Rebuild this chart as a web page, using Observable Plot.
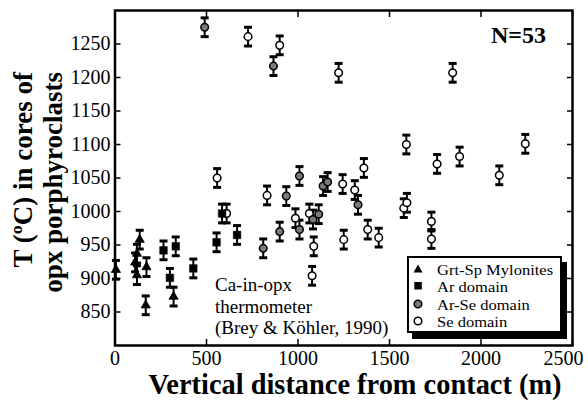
<!DOCTYPE html>
<html><head><meta charset="utf-8">
<script src="https://cdn.jsdelivr.net/npm/d3@7"></script>
<script src="https://cdn.jsdelivr.net/npm/@observablehq/plot@0.6"></script>
<style>
body{margin:0;background:#fff;}
#wrap{position:relative;width:588px;height:400px;font-family:"Liberation Serif","Times New Roman",serif;color:#000;overflow:hidden;}
#wrap svg{position:absolute;left:0;top:0;}
.abs{position:absolute;white-space:nowrap;}
#legend{position:absolute;left:407px;top:256px;width:151px;height:73px;border:2px solid #000;background:#fff;box-shadow:5px 6px 0 #000;}
#legend .row{position:absolute;left:0;font-size:15.3px;line-height:17px;height:17px;}
#legend .row svg{position:absolute;left:3px;top:2px;}
#legend .row span{position:absolute;left:28px;top:0;white-space:nowrap;display:inline-block;transform:scaleX(1.08);transform-origin:0 50%;}
</style></head><body><div id="wrap"></div>
<script>
// ---- data ----
const mylonitesDist = [5, 110, 120, 120, 135, 168, 172, 320];
const mylonitesTemp = [913, 924, 937, 905, 958, 860, 917, 873];

const arDist = [265, 300, 332, 428, 555, 585, 667];
const arTemp = [942, 901, 948, 915, 954, 997, 965];

const arSeDist = [490, 866, 1008, 936, 900, 810, 1008, 1082, 1113, 1137, 1162, 1328];
const arSeTemp = [1275, 1217, 1053, 1023, 970, 945, 973, 988, 996, 1038, 1044, 1010];

const seDist = [727, 900, 1222, 1845, 558, 610, 831, 986, 1062, 1086, 1077, 1244, 1310, 1360, 1250, 1381, 1441, 1592, 1578, 1595, 1729, 1729, 1760, 1883, 2100, 2242];
const seTemp = [1261, 1248, 1207, 1207, 1050, 997, 1024, 990, 997, 948, 904, 1041, 1032, 1065, 958, 973, 961, 1100, 1005, 1013, 985, 959, 1071, 1082, 1054, 1101];

const errorHalf = 14;
const xTicks = [0, 500, 1000, 1500, 2000, 2500];
const yTicks = [850, 900, 950, 1000, 1050, 1100, 1150, 1200, 1250];
const groups = ["Grt-Sp Mylonites", "Ar domain", "Ar-Se domain", "Se domain"];

// ---- build rows ----
const rows = [];
function add(group, ds, ts) { ds.forEach((d, i) => rows.push({group, d, t: ts[i]})); }
add(groups[3], seDist, seTemp);
add(groups[2], arSeDist, arSeTemp);
add(groups[1], arDist, arTemp);
add(groups[0], mylonitesDist, mylonitesTemp);
const byGroup = g => rows.filter(r => r.group === g);

const cap = {draw(ctx) { ctx.moveTo(-4, 0); ctx.lineTo(4, 0); }};
const font = "'Liberation Serif','Times New Roman',serif";

const chart = Plot.plot({
  width: 588, height: 400,
  marginLeft: 114.5, marginRight: 16, marginTop: 10, marginBottom: 55,
  x: {domain: [0, 2500]},
  y: {domain: [800, 1300]},
  style: {fontFamily: font, fontSize: "20px", color: "#000", background: "transparent"},
  marks: [
    Plot.axisX({anchor: "bottom", ticks: xTicks, tickSize: -6, tickPadding: 11, strokeWidth: 1.5,
      tickFormat: d => d === 2500 ? "" : String(d), label: null, fontSize: 20}),
    Plot.axisX({anchor: "bottom", ticks: [2500], tickSize: 0, tickPadding: 5, dx: -9,
      tickFormat: d => String(d), label: null, fontSize: 20}),
    Plot.axisX({anchor: "top", ticks: xTicks, tickSize: -6, strokeWidth: 1.5, tickFormat: () => "", label: null}),
    Plot.axisY({anchor: "left", ticks: yTicks, tickSize: -6, tickPadding: 10.5, strokeWidth: 1.5,
      tickFormat: d => String(d), label: null, fontSize: 20}),
    Plot.axisY({anchor: "right", ticks: yTicks, tickSize: -6, strokeWidth: 1.5, tickFormat: () => "", label: null}),
    Plot.ruleX(rows, {x: "d", y1: r => r.t - errorHalf, y2: r => r.t + errorHalf, stroke: "#000", strokeWidth: 2}),
    Plot.dot(rows, {x: "d", y: r => r.t + errorHalf, symbol: cap, r: 4, fill: "none", stroke: "#000", strokeWidth: 3}),
    Plot.dot(rows, {x: "d", y: r => r.t - errorHalf, symbol: cap, r: 4, fill: "none", stroke: "#000", strokeWidth: 3}),
    Plot.dot(byGroup(groups[3]), {x: "d", y: "t", r: 3.8, fill: "#fff", stroke: "#000", strokeWidth: 1.5}),
    Plot.dot(byGroup(groups[2]), {x: "d", y: "t", r: 3.8, fill: "#7a7a7a", stroke: "#000", strokeWidth: 1.5}),
    Plot.dot(byGroup(groups[1]), {x: "d", y: "t", r: 4.3, symbol: "square", fill: "#000", stroke: "#000", strokeWidth: 0.5}),
    Plot.dot(byGroup(groups[0]), {x: "d", y: "t", r: 3.4, symbol: "triangle", fill: "#000", stroke: "#000", strokeWidth: 0.8}),
    Plot.frame({stroke: "#000", strokeWidth: 2.5})
  ]
});

const wrap = document.getElementById("wrap");
wrap.appendChild(chart);

function addDiv(html, css) {
  const el = document.createElement("div");
  el.className = "abs";
  el.innerHTML = html;
  Object.assign(el.style, css);
  wrap.appendChild(el);
  return el;
}

// N=53
addDiv("N=53", {left: "491px", top: "23px", fontSize: "24px", lineHeight: "24px", fontWeight: "bold"});
// thermometer annotation
addDiv("Ca-in-opx<br>thermometer<br>(Brey &amp; Köhler, 1990)",
  {left: "215px", top: "274px", fontSize: "19px", lineHeight: "21.5px"});
// x title
addDiv("Vertical distance from contact (m)",
  {left: "55px", width: "600px", top: "371px", fontSize: "28.4px", lineHeight: "28px", fontWeight: "bold", textAlign: "center"});
// y title (rotated)
addDiv("T (ºC) in cores of<br>opx porphyroclasts",
  {left: "8px", top: "312px", width: "240px", height: "60px", fontSize: "27px", lineHeight: "30px", fontWeight: "bold",
   textAlign: "right", transformOrigin: "0 0", transform: "rotate(-90deg)"});

// legend
const legend = document.createElement("div");
legend.id = "legend";
wrap.appendChild(legend);
const symbols = [
  '<polygon points="6,1.5 10.5,9.5 1.5,9.5" fill="#000"/>',
  '<rect x="2.3" y="2" width="7.5" height="7.5" fill="#000"/>',
  '<circle cx="6" cy="6" r="3.8" fill="#7a7a7a" stroke="#000" stroke-width="1.5"/>',
  '<circle cx="6" cy="6" r="3.8" fill="#fff" stroke="#000" stroke-width="1.5"/>'
];
groups.forEach((g, i) => {
  const row = document.createElement("div");
  row.className = "row";
  row.style.top = (3 + i * 17.3) + "px";
  row.innerHTML = `<svg width="14" height="14">${symbols[i]}</svg><span>${g}</span>`;
  legend.appendChild(row);
});
</script>
</body></html>
